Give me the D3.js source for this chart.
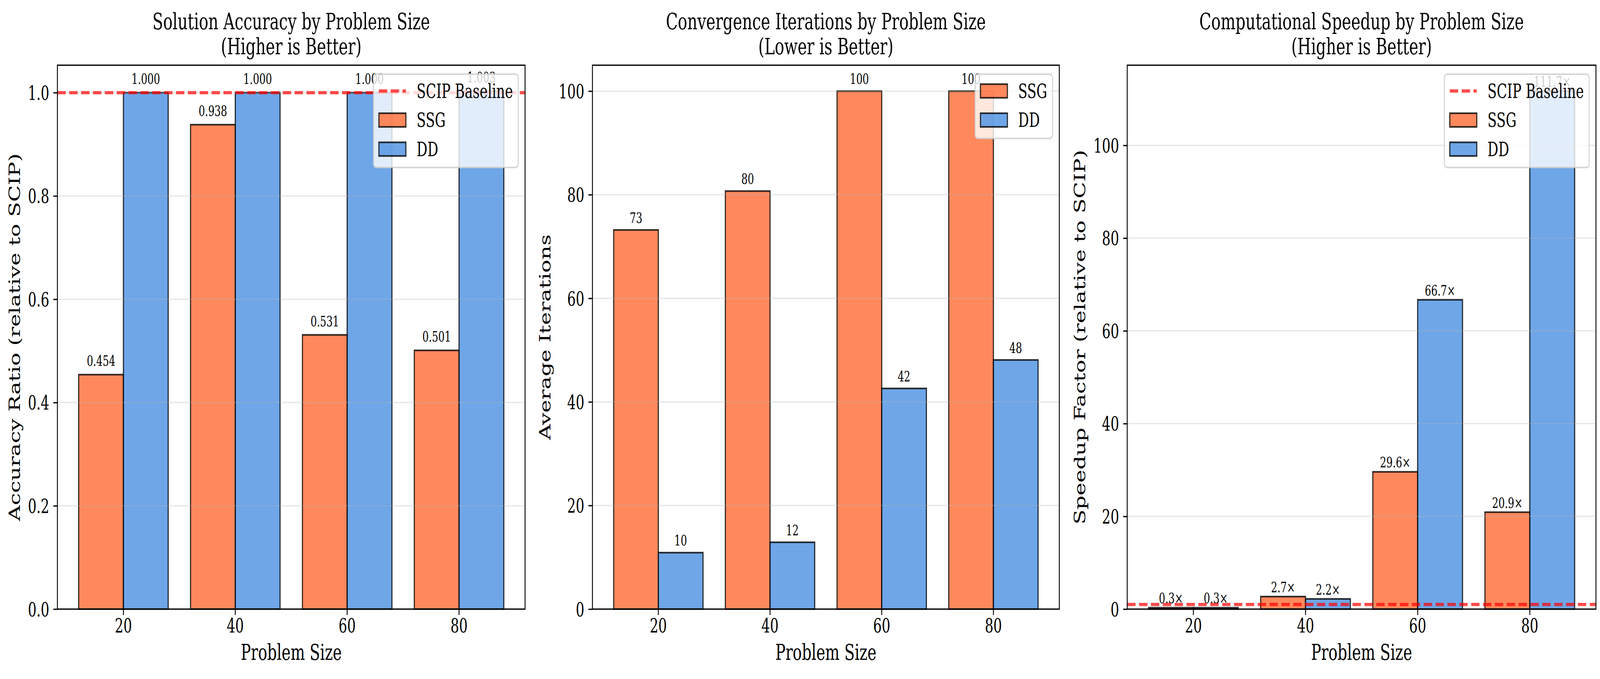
<!DOCTYPE html>
<html>
<head>
<meta charset="utf-8">
<script src="https://cdn.jsdelivr.net/npm/d3@7"></script>
<style>
  html, body { margin: 0; padding: 0; background: #fff; overflow: hidden; }
  svg { display: block; width: 100vw; height: 100vh; }
  text { font-family: "DejaVu Serif", serif; fill: #000; }
</style>
</head>
<body>
<!-- drawn in the reference's 5936x1739 frame, fitted to whatever window we get -->
<svg viewBox="0 0 5936 1739" preserveAspectRatio="none"></svg>
<script>
// data
const sizes = ["20", "40", "60", "80"];
const series = ["SSG", "DD"];

const accSSG = [0.454, 0.938, 0.531, 0.501];
const accDD = [1.000, 1.000, 1.000, 1.003];
const iterSSG = [73.2, 80.7, 100, 100];
const iterDD = [10.9, 12.9, 42.6, 48.1];
const speedSSG = [0.3, 2.7, 29.6, 20.9];
const speedDD = [0.3, 2.2, 66.7, 111.7];

const accTicks = [0, 0.2, 0.4, 0.6, 0.8, 1.0];
const iterTicks = [0, 20, 40, 60, 80, 100];
const speedTicks = [0, 20, 40, 60, 80, 100];

const colors = { SSG: "#FF6B35", DD: "#4A90E2" };
const baselineValue = 1;

const svg = d3.select("svg");
svg.append("rect").attr("width", 5936).attr("height", 1739).attr("fill", "#fff");

const plotTop = 167, plotBottom = 1560;

const panels = [
  { left: 213, right: 1948, title: ["Solution Accuracy by Problem Size", "(Higher is Better)"],
    ylabel: "Accuracy Ratio (relative to SCIP)", ssg: accSSG, dd: accDD, ticks: accTicks,
    tickFmt: d => d.toFixed(1), valFmt: d => d.toFixed(3), valOff: 22, baseline: true },
  { left: 2198, right: 3930, title: ["Convergence Iterations by Problem Size", "(Lower is Better)"],
    ylabel: "Average Iterations", ssg: iterSSG, dd: iterDD, ticks: iterTicks,
    tickFmt: d => String(d), valFmt: d => String(Math.trunc(d)), valOff: 18, baseline: false },
  { left: 4182, right: 5921, title: ["Computational Speedup by Problem Size", "(Higher is Better)"],
    ylabel: "Speedup Factor (relative to SCIP)", ssg: speedSSG, dd: speedDD, ticks: speedTicks,
    tickFmt: d => String(d), valFmt: d => d.toFixed(1) + "\u00d7", valOff: 11, baseline: true }
];

panels.forEach(p => {
  const g = svg.append("g");
  const rows = sizes.map((s, i) => ({ size: s, SSG: p.ssg[i], DD: p.dd[i] }));

  const x = d3.scaleBand().domain(sizes).range([p.left, p.right])
    .paddingInner(0.2).paddingOuter(0.19);
  const xs = d3.scaleBand().domain(series).range([0, x.bandwidth()]);
  const ymax = d3.max(p.ssg.concat(p.dd)) * 1.05;
  const y = d3.scaleLinear().domain([0, ymax]).range([plotBottom, plotTop]);

  // bars
  const groups = g.selectAll(".grp").data(rows).enter().append("g")
    .attr("transform", d => `translate(${x(d.size)},0)`);
  groups.selectAll("rect").data(d => series.map(k => ({ k, v: d[k] }))).enter().append("rect")
    .attr("x", d => xs(d.k))
    .attr("y", d => y(d.v))
    .attr("width", xs.bandwidth())
    .attr("height", d => plotBottom - y(d.v))
    .attr("fill", d => colors[d.k]).attr("fill-opacity", 0.8)
    .attr("stroke", "#000").attr("stroke-opacity", 0.8).attr("stroke-width", 4.2);

  // grid on top of bars (matplotlib default)
  g.selectAll(".grid").data(p.ticks).enter().append("line")
    .attr("x1", p.left).attr("x2", p.right)
    .attr("y1", d => y(d)).attr("y2", d => y(d))
    .attr("stroke", "#b0b0b0").attr("stroke-opacity", 0.3).attr("stroke-width", 3.3);

  // baseline
  if (p.baseline) {
    g.append("line").attr("x1", p.left).attr("x2", p.right)
      .attr("y1", y(baselineValue)).attr("y2", y(baselineValue))
      .attr("stroke", "red").attr("stroke-opacity", 0.7).attr("stroke-width", 8.3)
      .attr("stroke-dasharray", "31,13");
  }

  // value labels
  groups.selectAll(".val").data(d => series.map(k => ({ k, v: d[k] }))).enter().append("text")
    .attr("x", d => xs(d.k) + xs.bandwidth() / 2)
    .attr("y", d => y(d.v) - p.valOff)
    .attr("text-anchor", "middle").attr("font-size", 37)
    .text(d => p.valFmt(d.v));

  // axes
  const yAxis = g.append("g").attr("transform", `translate(${p.left},0)`)
    .call(d3.axisLeft(y).tickValues(p.ticks).tickFormat(p.tickFmt).tickSize(15).tickPadding(15));
  const xAxis = g.append("g").attr("transform", `translate(0,${plotBottom})`)
    .call(d3.axisBottom(x).tickSize(15).tickPadding(15));
  [yAxis, xAxis].forEach(a => {
    a.select(".domain").remove();
    a.selectAll(".tick line").attr("stroke", "#000").attr("stroke-width", 3.3);
    a.selectAll(".tick text").attr("font-size", 50).attr("font-family", "DejaVu Serif").attr("fill", "#000");
  });
  xAxis.selectAll(".tick text").attr("dy", null).attr("y", 60);
  yAxis.selectAll(".tick text").attr("dy", "0.36em");

  // spines
  g.append("rect").attr("x", p.left).attr("y", plotTop)
    .attr("width", p.right - p.left).attr("height", plotBottom - plotTop)
    .attr("fill", "none").attr("stroke", "#000").attr("stroke-width", 3.3);

  // titles and labels
  const cx = (p.left + p.right) / 2;
  const t = g.append("text").attr("text-anchor", "middle").attr("font-size", 58);
  t.append("tspan").attr("x", cx).attr("y", 75).text(p.title[0]);
  t.append("tspan").attr("x", cx).attr("y", 139).text(p.title[1]);

  g.append("text").attr("x", cx).attr("y", 1690).attr("text-anchor", "middle")
    .attr("font-size", 56).text("Problem Size");

  let tw = 0;
  yAxis.selectAll(".tick text").each(function () { tw = Math.max(tw, this.getBBox().width); });
  const lx = p.left - 30 - tw - 17 - 13;
  g.append("text").attr("transform", `translate(${lx},${(plotTop + plotBottom) / 2}) rotate(-90)`)
    .attr("text-anchor", "middle").attr("font-size", 56).text(p.ylabel);

  // legend
  const entries = (p.baseline ? [{ name: "SCIP Baseline", line: true }] : [])
    .concat(series.map(k => ({ name: k, line: false })));
  const leg = g.append("g");
  const frame = leg.append("rect");
  let maxW = 0;
  entries.forEach((e, i) => {
    const cy = 43 + i * 74.5;
    if (e.line) {
      leg.append("line").attr("x1", 20).attr("x2", 120).attr("y1", cy).attr("y2", cy)
        .attr("stroke", "red").attr("stroke-opacity", 0.7).attr("stroke-width", 8.3)
        .attr("stroke-dasharray", "31,13");
    } else {
      leg.append("rect").attr("x", 20).attr("y", cy - 17.5).attr("width", 100).attr("height", 35)
        .attr("fill", colors[e.name]).attr("fill-opacity", 0.8)
        .attr("stroke", "#000").attr("stroke-opacity", 0.8).attr("stroke-width", 4.2);
    }
    const tx = leg.append("text").attr("x", 160).attr("y", cy + 18).attr("font-size", 50).text(e.name);
    maxW = Math.max(maxW, tx.node().getComputedTextLength());
  });
  const lw = 160 + maxW + 20;
  const lh = 43 + (entries.length - 1) * 74.5 + 47;
  frame.attr("width", lw).attr("height", lh).attr("rx", 10).attr("ry", 10)
    .attr("fill", "#fff").attr("fill-opacity", 0.8)
    .attr("stroke", "#ccc").attr("stroke-opacity", 0.8).attr("stroke-width", 4);
  leg.attr("transform", `translate(${p.right - 25 - lw},${plotTop + 23})`);
});
</script>
</body>
</html>
